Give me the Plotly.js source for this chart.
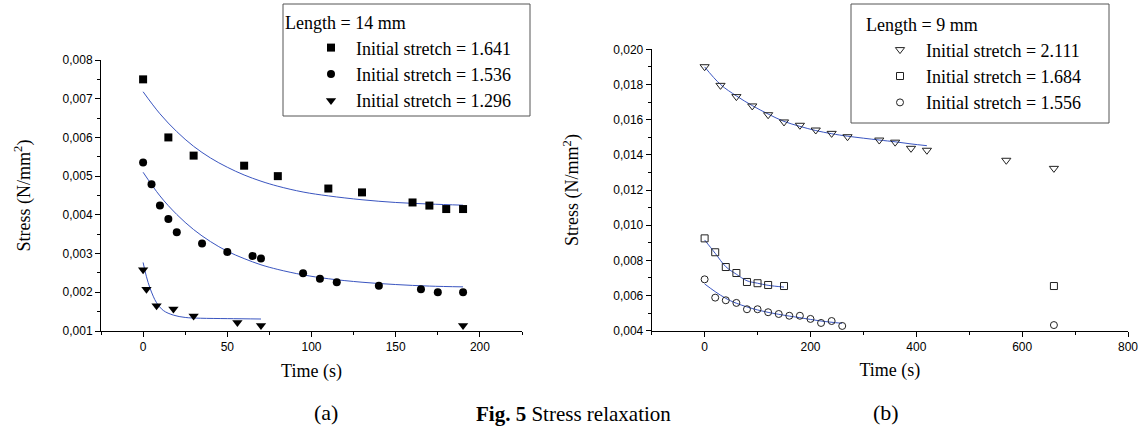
<!DOCTYPE html>
<html>
<head>
<meta charset="utf-8">
<script src="https://cdn.plot.ly/plotly-3.0.1.min.js"></script>
<style>html,body{margin:0;padding:0;background:#fff;}#chart{width:1142px;height:441px;}</style>
</head>
<body>
<div id="chart"></div>
<script>
// ---------- Panel (a): Length = 14 mm ----------
const tA_1641 = [0, 15, 30, 60, 80, 110, 130, 160, 170, 180, 190];
const vA_1641 = [0.0075, 0.0060, 0.00553, 0.00527, 0.0050, 0.00468, 0.00458, 0.00432, 0.00424, 0.00415, 0.00415];
const tA_1536 = [0, 5, 10, 15, 20, 35, 50, 65, 70, 95, 105, 115, 140, 165, 175, 190];
const vA_1536 = [0.00535, 0.00479, 0.00424, 0.00389, 0.00355, 0.00326, 0.00304, 0.00294, 0.00287, 0.00249, 0.00235, 0.00226, 0.00217, 0.00208, 0.00200, 0.00200];
const tA_1296 = [0, 2, 8, 18, 30, 56, 70, 190];
const vA_1296 = [0.00258, 0.00208, 0.00165, 0.00157, 0.00139, 0.00122, 0.00114, 0.00114];

// fitted curves
const fitTA_1641 = [0, 10, 20, 30, 40, 50, 60, 70, 80, 95, 110, 130, 150, 170, 190];
const fitVA_1641 = [0.00718, 0.00661, 0.00615, 0.00577, 0.00547, 0.00523, 0.00503, 0.00487, 0.00474, 0.00459, 0.00449, 0.00439, 0.00432, 0.00428, 0.00425];
const fitTA_1536 = [0, 10, 20, 30, 40, 50, 60, 70, 80, 95, 110, 130, 150, 170, 190];
const fitVA_1536 = [0.0051, 0.00449, 0.00401, 0.00362, 0.00331, 0.00306, 0.00287, 0.00271, 0.00259, 0.00245, 0.00235, 0.00226, 0.0022, 0.00216, 0.00214];
const fitTA_1296 = [0, 2, 4, 6, 8, 12, 18, 25, 34, 50, 70];
const fitVA_1296 = [0.00277, 0.0024, 0.00212, 0.0019, 0.00173, 0.00153, 0.00141, 0.00135, 0.00133, 0.00132, 0.00131];

// ---------- Panel (b): Length = 9 mm ----------
const tB_2111 = [0, 30, 60, 90, 120, 150, 180, 210, 240, 270, 330, 360, 390, 420, 570, 660];
const vB_2111 = [0.01901, 0.01795, 0.01731, 0.01678, 0.01628, 0.01587, 0.01568, 0.01541, 0.01522, 0.01503, 0.01484, 0.01472, 0.01437, 0.01426, 0.01369, 0.01323];
const tB_1684 = [0, 20, 40, 60, 80, 100, 120, 150, 660];
const vB_1684 = [0.00925, 0.00846, 0.00762, 0.00728, 0.00677, 0.0067, 0.0066, 0.00654, 0.00654];
const tB_1556 = [0, 20, 40, 60, 80, 100, 120, 140, 160, 180, 200, 220, 240, 260, 660];
const vB_1556 = [0.00692, 0.00588, 0.00573, 0.00558, 0.00522, 0.00522, 0.00505, 0.00495, 0.00485, 0.00485, 0.00467, 0.00444, 0.00455, 0.00427, 0.00432];

const fitTB_2111 = [0, 30, 60, 90, 120, 150, 180, 210, 240, 270, 330, 360, 390, 420];
const fitVB_2111 = [0.0190, 0.0180, 0.01735, 0.0168, 0.01632, 0.0159, 0.01562, 0.01538, 0.0152, 0.01506, 0.01484, 0.01474, 0.01462, 0.01452];
const fitTB_1684 = [0, 20, 40, 60, 80, 100, 120, 150];
const fitVB_1684 = [0.00916, 0.0084, 0.00764, 0.00721, 0.00684, 0.0067, 0.00658, 0.00648];
const fitTB_1556 = [0, 20, 40, 60, 100, 140, 180, 220, 260];
const fitVB_1556 = [0.00666, 0.00622, 0.00584, 0.00556, 0.00518, 0.00493, 0.00474, 0.00455, 0.00442];

const legendTitleA = 'Length = 14 mm';
const legendTitleB = 'Length = 9 mm';
const namesA = ['Initial stretch = 1.641', 'Initial stretch = 1.536', 'Initial stretch = 1.296'];
const namesB = ['Initial stretch = 2.111', 'Initial stretch = 1.684', 'Initial stretch = 1.556'];
const captionA = '(a)';
const captionB = '(b)';
const figCaption = '<b>Fig. 5</b> Stress relaxation';

const FIT = '#3a55c0';
function fit(x, y, xa, ya) {
  return {x: x, y: y, xaxis: xa, yaxis: ya, mode: 'lines', type: 'scatter',
    line: {color: FIT, width: 1, shape: 'spline', smoothing: 1}, showlegend: false, hoverinfo: 'skip'};
}
function pts(x, y, xa, ya, name, sym, size, col, lg, grp, lw) {
  return {x: x, y: y, xaxis: xa, yaxis: ya, mode: 'markers', type: 'scatter', name: name,
    legend: lg, legendgroup: grp, cliponaxis: false,
    marker: {symbol: sym, size: size, color: col, line: {color: col, width: lw || 0}}};
}

const data = [
  fit(fitTA_1641, fitVA_1641, 'x', 'y'),
  fit(fitTA_1536, fitVA_1536, 'x', 'y'),
  fit(fitTA_1296, fitVA_1296, 'x', 'y'),
  fit(fitTB_2111, fitVB_2111, 'x2', 'y2'),
  fit(fitTB_1684, fitVB_1684, 'x2', 'y2'),
  fit(fitTB_1556, fitVB_1556, 'x2', 'y2'),
  pts(tA_1641, vA_1641, 'x', 'y', namesA[0], 'square', 8, '#000', 'legend', 'a1'),
  pts(tA_1536, vA_1536, 'x', 'y', namesA[1], 'circle', 8, '#000', 'legend', 'a2'),
  pts(tA_1296, vA_1296, 'x', 'y', namesA[2], 'triangle-down', 9, '#000', 'legend', 'a3'),
  pts(tB_2111, vB_2111, 'x2', 'y2', namesB[0], 'triangle-down-open', 8, '#222', 'legend2', 'b1', 1),
  pts(tB_1684, vB_1684, 'x2', 'y2', namesB[1], 'square-open', 7, '#222', 'legend2', 'b2', 1),
  pts(tB_1556, vB_1556, 'x2', 'y2', namesB[2], 'circle-open', 7, '#222', 'legend2', 'b3', 1)
];

const SERIF = 'Liberation Serif';
const tickFont = {family: 'Liberation Sans', size: 12, color: '#000'};
const titleFont = {family: SERIF, size: 18, color: '#000'};
const legFont = {family: SERIF, size: 18, color: '#000'};
const baseAxis = {
  showline: true, linecolor: '#000', linewidth: 1, showgrid: false, zeroline: false,
  ticks: 'outside', ticklen: 5, tickwidth: 1, tickcolor: '#000', tickfont: tickFont,
  mirror: false, automargin: false
};
const W = 1142, H = 441;
const layout = {
  width: W, height: H,
  margin: {l: 0, r: 0, t: 0, b: 0},
  paper_bgcolor: '#fff', plot_bgcolor: 'rgba(0,0,0,0)',
  separators: ',.',
  showlegend: true,
  xaxis: Object.assign({}, baseAxis, {
    domain: [101 / W, 522 / W], anchor: 'y', range: [-25, 225], tick0: 0, dtick: 50,
    minor: {ticks: 'outside', ticklen: 3, tick0: 0, dtick: 25, tickcolor: '#000'},
    title: {text: 'Time (s)', font: titleFont, standoff: 10}
  }),
  yaxis: Object.assign({}, baseAxis, {
    domain: [1 - 331 / H, 1 - 60 / H], anchor: 'x', range: [0.001, 0.008], tick0: 0.001, dtick: 0.001,
    tickformat: '.3f',
    minor: {ticks: 'outside', ticklen: 3, dtick: 0.0005, tickcolor: '#000'},
    title: {text: 'Stress (N/mm<sup>2</sup>)', font: titleFont, standoff: 27}
  }),
  xaxis2: Object.assign({}, baseAxis, {
    domain: [651.7 / W, 1128 / W], anchor: 'y2', range: [-100, 800], tick0: 0, dtick: 200,
    minor: {ticks: 'outside', ticklen: 3, tick0: 0, dtick: 100, tickcolor: '#000'},
    title: {text: 'Time (s)', font: titleFont, standoff: 10}
  }),
  yaxis2: Object.assign({}, baseAxis, {
    domain: [1 - 330.7 / H, 1 - 49.3 / H], anchor: 'x2', range: [0.004, 0.020], tick0: 0.004, dtick: 0.002,
    tickformat: '.3f',
    minor: {ticks: 'outside', ticklen: 3, dtick: 0.001, tickcolor: '#000'},
    title: {text: 'Stress (N/mm<sup>2</sup>)', font: titleFont, standoff: 29}
  }),
  legend: {
    x: 283 / W, xanchor: 'left', y: 1 - 6 / H, yanchor: 'top',
    bgcolor: 'rgba(0,0,0,0)', borderwidth: 0,
    font: legFont,
    title: {text: legendTitleA, font: legFont},
    indentation: 23, tracegroupgap: 0, itemwidth: 40
  },
  legend2: {
    x: 864 / W, xanchor: 'left', y: 1 - 8 / H, yanchor: 'top',
    bgcolor: 'rgba(0,0,0,0)', borderwidth: 0,
    font: legFont,
    title: {text: legendTitleB, font: legFont},
    indentation: 10, tracegroupgap: 0, itemwidth: 42
  },
  shapes: [
    {type: 'rect', xref: 'paper', yref: 'paper', x0: 283 / W, x1: 530 / W, y0: 1 - 116 / H, y1: 1 - 4 / H,
      line: {color: '#555', width: 1}, fillcolor: 'rgba(0,0,0,0)', layer: 'above'},
    {type: 'rect', xref: 'paper', yref: 'paper', x0: 851 / W, x1: 1109 / W, y0: 1 - 123 / H, y1: 1 - 4 / H,
      line: {color: '#555', width: 1}, fillcolor: 'rgba(0,0,0,0)', layer: 'above'}
  ],
  annotations: [
    {xref: 'paper', yref: 'paper', x: 312 / W, y: 1 - 427 / H, text: captionA, showarrow: false,
      font: {family: SERIF, size: 22, color: '#000'}},
    {xref: 'paper', yref: 'paper', x: 901 / W, y: 1 - 427 / H, text: captionB, showarrow: false,
      font: {family: SERIF, size: 22, color: '#000'}},
    {xref: 'paper', yref: 'paper', x: 573 / W, y: 1 - 428 / H, text: figCaption, showarrow: false,
      font: {family: SERIF, size: 21, color: '#000'}}
  ]
};
Plotly.newPlot('chart', data, layout, {staticPlot: true, displayModeBar: false});
</script>
</body>
</html>
